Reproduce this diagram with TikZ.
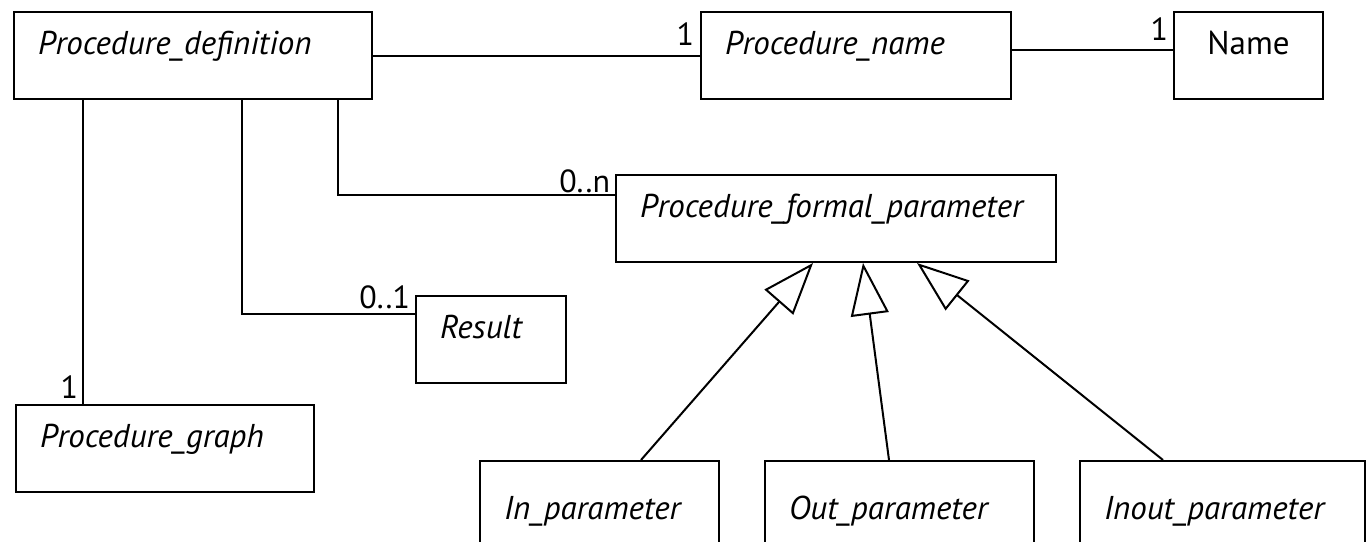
\documentclass[tikz,border=0pt]{standalone}
\usepackage{fontspec}
\setmainfont{PT Sans}
\usetikzlibrary{arrows.meta}
\begin{document}
\begin{tikzpicture}[x=1pt, y=-1pt, line width=2pt, font=\fontsize{32}{36}\selectfont,
	cls/.style={draw, anchor=north west, minimum height=87pt, inner xsep=24pt,
		text height=24pt, text depth=27pt, align=left, font=\fontsize{33}{36}\selectfont\itshape},
	mult/.style={anchor=base east, inner sep=0pt},
	gen/.style={-{Triangle[open, length=52pt, width=38pt]}}]
	\useasboundingbox (0,0) rectangle (1368,541);
	\draw (13,11) node[cls, minimum width=358pt, text width=310pt] (pdef) {Procedure\_definition}
		(700,11) node[cls, minimum width=310pt, text width=262pt] (pname) {Procedure\_name}
		(1173,11) node[cls, minimum width=149pt, text width=101pt, align=center, font=\fontsize{33}{36}\selectfont] (name) {Name}
		(615,174) node[cls, minimum width=440pt, text width=392pt, inner xsep=22pt] (pform) {Procedure\_formal\_parameter}
		(415,295) node[cls, minimum width=150pt, text width=102pt] (res) {Result}
		(15,404) node[cls, minimum width=298pt, text width=250pt, inner xsep=22pt] (pgraph) {Procedure\_graph}
		(479,460) node[cls, minimum width=239pt, minimum height=120pt, text width=191pt, inner xsep=21pt] (inp) {In\_parameter}
		(764,460) node[cls, minimum width=269pt, minimum height=120pt, text width=221pt, inner xsep=21pt] (outp) {Out\_parameter}
		(1079,460) node[cls, minimum width=285pt, minimum height=120pt, text width=237pt, inner xsep=21pt] (inoutp) {Inout\_parameter};

	% attachment points
	\coordinate (pdA) at ([xshift=70pt]pdef.south west);
	\coordinate (pdB) at ([xshift=229pt]pdef.south west);
	\coordinate (pdC) at ([xshift=325pt]pdef.south west);
	\coordinate (pgA) at ([xshift=68pt]pgraph.north west);
	\coordinate (resA) at ([yshift=-19pt]res.north west);
	\coordinate (pfA) at ([yshift=-21pt]pform.north west);
	\coordinate (pfB) at ([xshift=198pt]pform.south west);
	\coordinate (pfC) at ([xshift=248pt]pform.south west);
	\coordinate (pfD) at ([xshift=302pt]pform.south west);
	\coordinate (inA) at ([xshift=162pt]inp.north west);
	\coordinate (outA) at ([xshift=125pt]outp.north west);
	\coordinate (ioA) at ([xshift=84pt]inoutp.north west);

	\draw (pdef) -- (pname);
	\draw ([yshift=6pt]pname.east) -- ([yshift=6pt]name.west);
	\draw (pdA) -- (pgA);
	\draw (pdB) |- (resA);
	\draw (pdC) |- (pfA);
	\draw[gen] (inA) -- (pfB);
	\draw[gen] (outA) -- (pfC);
	\draw[gen] (ioA) -- (pfD);

	% multiplicities
	\node[mult] (m1) at ([xshift=-5pt, yshift=-34pt]pname.north west) {1};
	\node[mult] (m2) at ([xshift=-4pt, yshift=-29pt]name.north west) {1};
	\node[mult] (m3) at ([xshift=-4pt, yshift=-18pt]pform.north west) {0..n};
	\node[mult] (m4) at ([xshift=-4pt, yshift=-13pt]res.north west) {0..1};
	\node[mult] (m5) at ([xshift=64pt, yshift=6pt]pgraph.north west) {1};
\end{tikzpicture}
\end{document}
